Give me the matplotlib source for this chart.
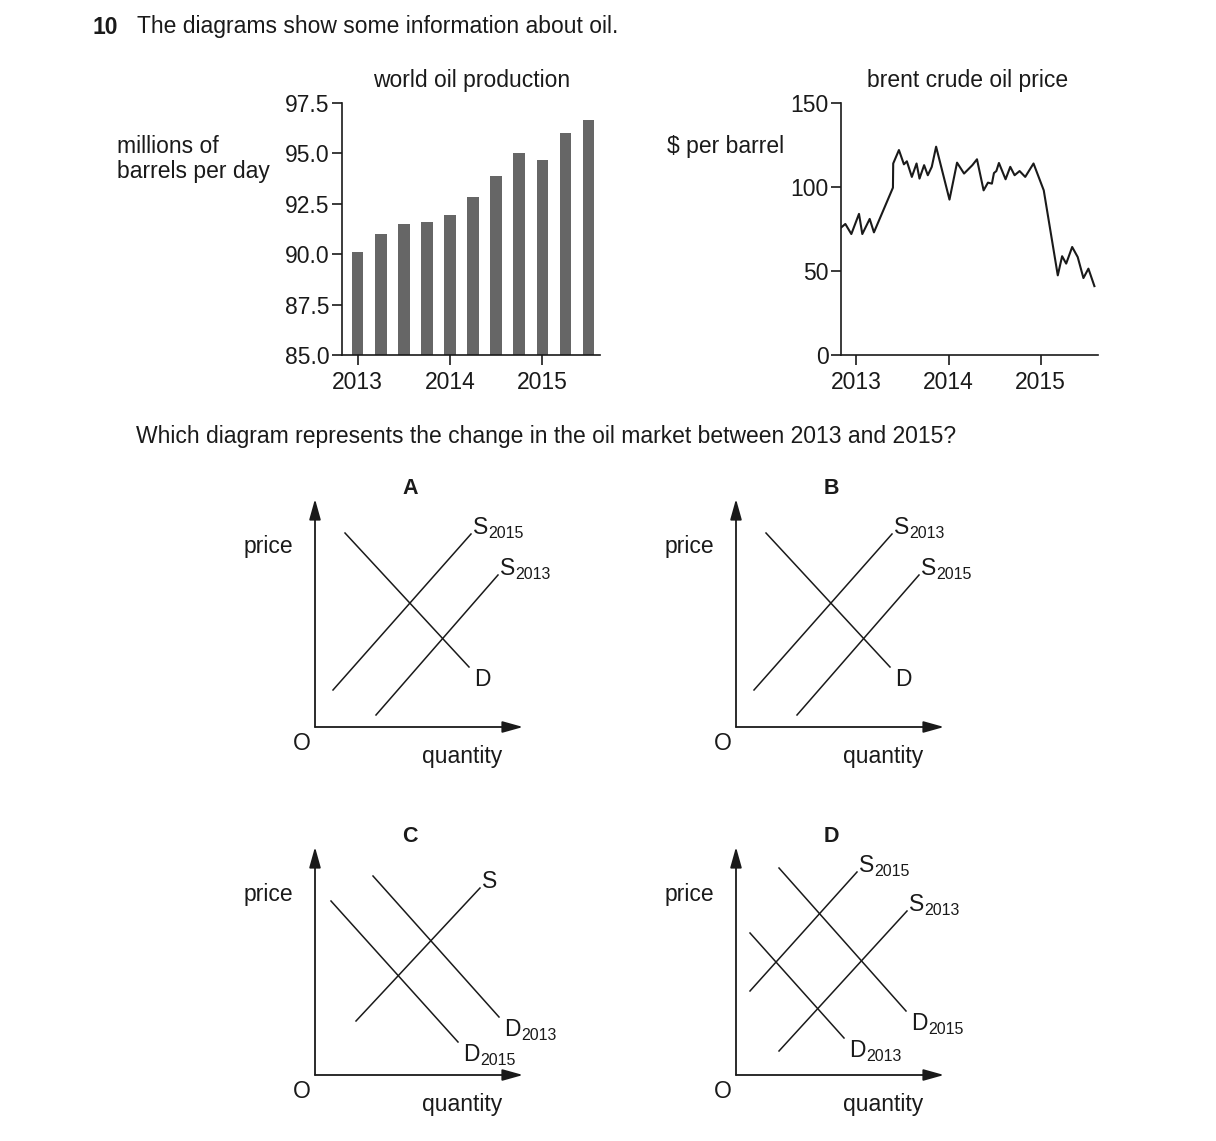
import matplotlib
matplotlib.use('Agg')
import matplotlib.pyplot as plt

plt.rcParams['font.family'] = ['Liberation Sans', 'DejaVu Sans']

INK = '#1a1a1a'
FS = 16.5

# world oil production, quarterly (2013 Q1 .. 2015 Q3), millions of barrels per day
prod_values = [90.1, 91.0, 91.5, 91.6, 91.95, 92.85, 93.9, 95.0, 94.65, 96.0, 96.65]
prod_year_pos = [0, 4, 8]
year_labels = ['2013', '2014', '2015']
prod_yticks = [85.0, 87.5, 90.0, 92.5, 95.0, 97.5]

# brent crude oil price, $ per barrel
brent_time = [2012.838, 2012.881, 2012.946, 2013.029, 2013.065, 2013.145, 2013.191,
              2013.397, 2013.400, 2013.462, 2013.516, 2013.548, 2013.602, 2013.653,
              2013.685, 2013.735, 2013.775, 2013.818, 2013.865, 2014.010, 2014.092,
              2014.168, 2014.258, 2014.308, 2014.380, 2014.427, 2014.470, 2014.492,
              2014.518, 2014.546, 2014.618, 2014.669, 2014.716, 2014.770, 2014.831,
              2014.921, 2015.032, 2015.184, 2015.231, 2015.275, 2015.340, 2015.400,
              2015.462, 2015.516, 2015.581]
brent_price = [76, 78, 72, 84, 72, 81, 73,
               99.6, 114, 122, 113.5, 115.3, 106, 114,
               105, 113, 107, 112, 124, 92.5, 114.5,
               108, 113, 116.5, 98, 102.6, 102, 108.3,
               109.5, 114.3, 104.6, 112, 107, 109.5, 106,
               114, 98, 47.4, 58.8, 54.4, 64.3, 58.3,
               45.8, 51.4, 41]
brent_yticks = [0, 50, 100, 150]
brent_xticks = [2013, 2014, 2015]

# option diagrams: (curve, year, quantities, prices)
curves_A = [('D', '', (30, 154), (194, 60)),
            ('S', '2015', (18, 156), (37, 193)),
            ('S', '2013', (61, 183), (12, 152))]
curves_B = [('D', '', (30, 154), (194, 60)),
            ('S', '2013', (18, 156), (37, 193)),
            ('S', '2015', (61, 183), (12, 152))]
curves_C = [('D', '2015', (16, 143), (174, 33)),
            ('D', '2013', (58, 184), (199, 58)),
            ('S', '', (41, 165), (54, 187))]
curves_D = [('S', '2015', (14, 121), (84, 203)),
            ('S', '2013', (43, 171), (24, 164)),
            ('D', '2015', (43, 170), (207, 64)),
            ('D', '2013', (14, 108), (142, 37))]

W, H = 1216, 1141
fig = plt.figure(figsize=(W / 100, H / 100), dpi=100)


def box(left, top, right, bottom):
    return [left / W, 1 - bottom / H, (right - left) / W, (bottom - top) / H]


def put(x, y, s, **kw):
    fig.text(x / W, 1 - y / H, s, fontsize=kw.pop('fontsize', FS), color=INK, **kw)


def style(ax):
    for side in ['top', 'right']:
        ax.spines[side].set_visible(False)
    for side in ['left', 'bottom']:
        ax.spines[side].set_linewidth(1.2)
        ax.spines[side].set_color(INK)
    ax.tick_params(length=7, width=1.2, colors=INK, labelsize=FS, pad=2)
    ax.tick_params(axis='x', pad=4.5)


# bar chart
ax1 = fig.add_axes(box(342, 103, 600, 355))
ax1.bar(range(len(prod_values)), prod_values, width=0.5, color='#666666')
ax1.set_ylim(85, 97.5)
ax1.set_xlim(-0.68, 10.5)
ax1.set_yticks(prod_yticks)
ax1.set_yticklabels(['%.1f' % v for v in prod_yticks])
ax1.set_xticks(prod_year_pos)
ax1.set_xticklabels(year_labels)
style(ax1)

# line chart
ax2 = fig.add_axes(box(841, 103, 1098, 355))
ax2.plot(brent_time, brent_price, color=INK, lw=1.5)
ax2.set_xlim(2012.834, 2015.62)
ax2.set_ylim(0, 150)
ax2.set_yticks(brent_yticks)
ax2.set_xticks(brent_xticks)
ax2.set_xticklabels(year_labels)
style(ax2)

put(92, 27, '10', fontweight='bold', va='center')
put(137, 27, 'The diagrams show some information about oil.', va='center')
put(472, 80, 'world oil production', ha='center', va='center')
put(968, 80, 'brent crude oil price', ha='center', va='center')
put(117, 159, 'millions of\nbarrels per day', va='center', linespacing=1.15)
put(667, 146, '\\$ per barrel', va='center')
put(136, 437, 'Which diagram represents the change in the oil market between 2013 and 2015?',
    va='center')


def diagram(origin, letter, curves):
    ox, oy = origin
    ax = fig.add_axes(box(ox, oy - 228, ox + 208, oy))
    ax.set_xlim(0, 208)
    ax.set_ylim(0, 228)
    ax.axis('off')
    arrow = dict(arrowstyle='-|>,head_length=1.25,head_width=0.35', mutation_scale=10,
                 lw=1.3, color=INK, shrinkA=0, shrinkB=0)
    ax.annotate('', xy=(208, 0), xytext=(0, 0), arrowprops=arrow)
    ax.annotate('', xy=(0, 228), xytext=(0, 0), arrowprops=arrow)
    for name, year, qs, ps in curves:
        ax.plot(qs, ps, color=INK, lw=1.1, clip_on=False)
        dx, dy = (2, 0) if name == 'S' else (5, -19)
        t = ax.text(qs[1] + dx, ps[1] + dy, name, fontsize=FS, color=INK,
                    ha='left', va='baseline')
        if year:
            ax.annotate(year, xy=(1, 0), xycoords=t, xytext=(0.3, 0.5),
                        textcoords='offset points', fontsize=11.5, color=INK,
                        ha='left', va='baseline')
    ax.text(-22, 181, 'price', fontsize=FS, color=INK, ha='right', va='center')
    ax.text(-13, -17, 'O', fontsize=FS, color=INK, ha='center', va='center')
    ax.text(147, -29, 'quantity', fontsize=FS, color=INK, ha='center', va='center')
    ax.text(95, 238, letter, fontsize=15.5, fontweight='bold', color=INK,
            ha='center', va='center')


diagram((315, 727), 'A', curves_A)
diagram((736, 727), 'B', curves_B)
diagram((315, 1075), 'C', curves_C)
diagram((736, 1075), 'D', curves_D)

fig.savefig('out.png', dpi=100, facecolor='white')
